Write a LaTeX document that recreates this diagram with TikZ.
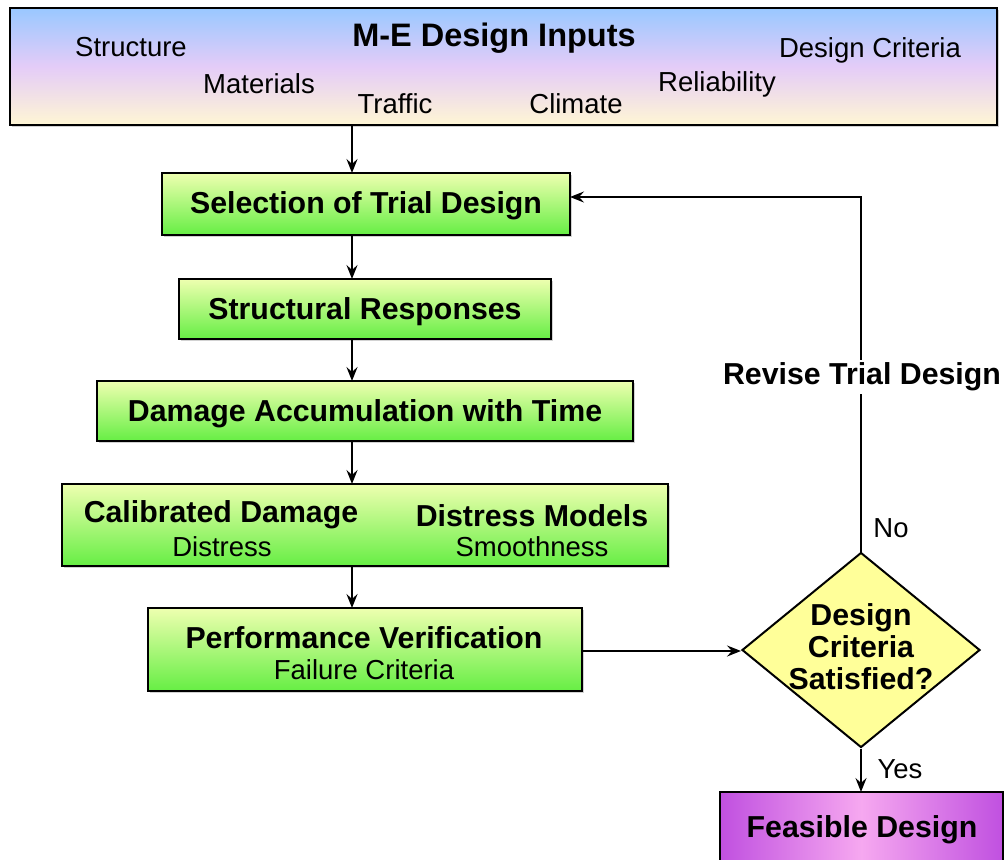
\documentclass[tikz,border=0pt]{standalone}
\usepackage{fontspec}
\setmainfont{Liberation Sans}
\usetikzlibrary{shapes.geometric,arrows.meta,shadows}
\definecolor{gtop}{HTML}{EEFFB0}
\definecolor{gbot}{HTML}{66EE44}
\definecolor{btop}{HTML}{99C8FF}
\definecolor{bmid}{HTML}{E4CCF8}
\definecolor{bbot}{HTML}{FFF6D4}
\definecolor{dyel}{HTML}{FFFF99}
\definecolor{pedge}{HTML}{C050E0}
\definecolor{pmid}{HTML}{F6A8F0}
\tikzset{
  reg/.style={font=\fontsize{27.5}{32}\selectfont, inner sep=0pt},
  bld/.style={font=\fontsize{30.3}{32}\selectfont\bfseries, inner sep=0pt},
  gbox/.style={draw=black, line width=2.2pt, top color=gtop, bottom color=gbot,
    drop shadow={shadow xshift=2pt, shadow yshift=-2pt, fill=black!35}},
  arr/.style={draw=black, line width=2pt, -{Stealth[length=14pt,width=11pt,inset=5pt]}},
}
\begin{document}
\begin{tikzpicture}[x=1pt,y=-1pt]
\useasboundingbox (0,0) rectangle (1005,860);
% top inputs box
\path[draw=black, line width=2.2pt, top color=btop, bottom color=bbot, middle color=bmid,
  drop shadow={shadow xshift=2pt, shadow yshift=-2pt, fill=black!35}]
  (10,8) rectangle (997,125);
\coordinate (topS) at (352,125);
\node[font=\fontsize{32.5}{34}\selectfont\bfseries, inner sep=0pt] (title) at (494,38) {M-E Design Inputs};
\node[reg] (structure) at (131,47) {Structure};
\node[reg] (materials) at (259,84) {Materials};
\node[reg] (traffic) at (395,104) {Traffic};
\node[reg] (climate) at (576,104) {Climate};
\node[reg] (reliab) at (717,84) {Reliability};
\node[reg] (dcrit) at (870,50) {Design Criteria};

% boxes
\path[gbox] (162,173) rectangle (570,235);
\node[bld] (sel) at (366,206) {Selection of Trial Design};
\coordinate (selN) at (352,173); \coordinate (selS) at (352,235); \coordinate (selE) at (570,197);

\path[gbox] (179,279) rectangle (551,339);
\node[bld] (str) at (365,312) {Structural Responses};
\coordinate (strN) at (352,279); \coordinate (strS) at (352,339);

\path[gbox] (97,381) rectangle (633,441);
\node[bld] (dam) at (365,414) {Damage Accumulation with Time};
\coordinate (damN) at (352,381); \coordinate (damS) at (352,441);

\path[gbox] (62,484) rectangle (668,566);
\node[bld] (calA) at (221,515) {Calibrated Damage};
\node[reg] (calB) at (222,547) {Distress};
\node[bld] (calC) at (532,516) {Distress Models};
\node[reg] (calD) at (532,547) {Smoothness};
\coordinate (calN) at (352,484); \coordinate (calS) at (352,566);

\path[gbox] (148,608) rectangle (582,691);
\node[bld] (perfA) at (364,638) {Performance Verification};
\node[reg] (perfB) at (364,670) {Failure Criteria};
\coordinate (perfN) at (352,608); \coordinate (perfE) at (582,651);

% decision
\node[diamond, draw=black, line width=2pt, fill=dyel, minimum width=238pt, minimum height=195pt, inner sep=0pt] (dec) at (861,650) {};
\node[bld, align=center] (dectext) at (861,647) {Design\\Criteria\\Satisfied?};

% feasible
\path[draw=black, line width=2.2pt, left color=pedge, right color=pedge, middle color=pmid]
  (720,792) rectangle (1003,870);
\node[bld] (feas) at (862,830) {Feasible Design};
\coordinate (feasN) at (861,792);

% connectors
\draw[arr] (topS) -- (selN);
\draw[arr] (selS) -- (strN);
\draw[arr] (strS) -- (damN);
\draw[arr] (damS) -- (calN);
\draw[arr] (calS) -- (perfN);
\draw[arr] (perfE) -- (dec.west |- perfE);
\draw[arr] (dec.north) |- (selE);
\draw[arr] (dec.south) -- (feasN);

\node[bld, fill=white, inner sep=3pt] (revise) at (862,377) {Revise Trial Design};
\node[reg] (no) at (891,528) {No};
\node[reg] (yes) at (900,769) {Yes};
\end{tikzpicture}
\end{document}
